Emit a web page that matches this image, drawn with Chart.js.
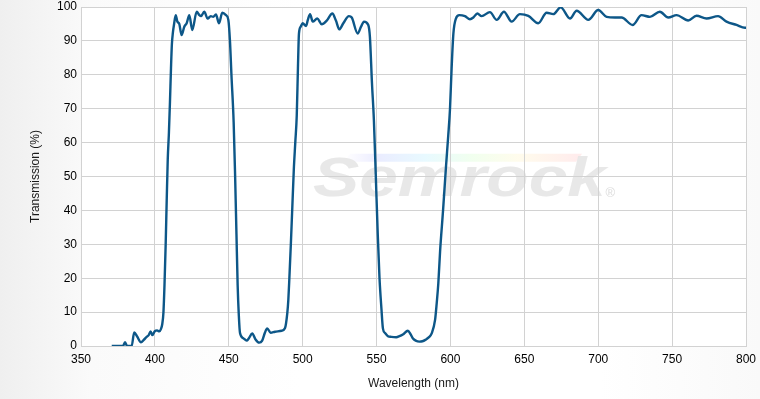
<!DOCTYPE html>
<html>
<head>
<meta charset="utf-8">
<script src="https://cdn.jsdelivr.net/npm/chart.js@4.4.0/dist/chart.umd.min.js"></script>
<style>
  html, body { margin: 0; padding: 0; }
  body {
    width: 760px; height: 399px; overflow: hidden;
    background: linear-gradient(to right, #efefef 0px, #fafafa 90px, #ffffff 300px, #ffffff 600px, #f9f9f9 760px);
  }
  #wrap { position: relative; width: 760px; height: 399px; }
</style>
</head>
<body>
<div id="wrap"><canvas id="c" width="760" height="399"></canvas></div>
<script>
// Wavelength (nm) and transmission (%)
const wavelengths = [
  370.8, 375, 378.4, 379.8, 381.2, 384.3, 386, 388, 390.6, 392.5, 394.4, 395.8, 397.1, 398.3, 400, 401.5, 403, 404,
  405, 405.8, 406.5, 407.3, 408, 408.7, 409.5, 410.2, 410.9, 411.5, 412.2, 413, 414.1, 415.2, 416.5, 418.1, 419.9,
  421.5, 423.3, 425.3, 428.3, 430.1, 431.2, 433.4, 435.7, 437.8, 439.5, 441.3, 443.4, 445.6, 448.1, 449.7,
  450.8, 451.8, 453.3, 454.3, 455.2, 456, 456.8, 457.6, 459.8, 462.1, 463.5, 465.9, 468, 470.6, 472.5, 474.5,
  476, 478.3, 481.3, 485.8, 488, 489.6, 490.3, 491, 492, 493, 494, 495, 496, 496.8, 497.5, 498.7, 500, 502.3,
  503.5, 505, 506.8, 509.9, 512.9, 516.3, 520.1, 522.5, 524.8, 527.5, 531.3, 533.2, 537.2, 539.5, 541.5, 544.4,
  545.5, 546.9, 548.2, 549.5, 550.8, 552, 553.3, 554.3, 555.8, 557.7, 560, 563.3, 565.5, 567.8, 571.2, 573,
  574.5, 576.5, 579, 581, 583, 585.5, 587.3, 589.6, 590.7, 591.8, 593, 595, 597, 598.5, 599.7, 600.8, 602, 603.7, 606,
  609.8, 613.2, 615.5, 618.2, 621.1, 626.7, 631.3, 636.2, 641.4, 647, 652.7, 659.4, 665.1, 669.6, 674.6, 680.9,
  685.4, 693.3, 700, 705.7, 711.3, 715.8, 723.3, 729.3, 735, 741.7, 747.4, 753, 760.9, 766.5, 773.3, 781.1,
  786.8, 793.6, 799.3, 800
];
const transmission = [
  0, 0, 0, 1.1, 0, 0, 4.0, 2.8, 1.1, 1.8, 2.7, 3.2, 4.3, 3.2, 4.4, 4.6, 4.3, 4.9,
  6.5, 10, 18, 30, 43, 55, 63, 72, 82, 89, 92.5, 95, 97.6, 95.7, 95, 91.7, 94.2,
  95.2, 97.6, 93.2, 98.6, 97.6, 97.3, 98.6, 96.6, 97.3, 97.1, 97.8, 95.2, 98.3, 97.6, 96.2,
  90, 80, 66, 50, 33, 18, 9, 3.8, 2.3, 1.6, 2.2, 3.7, 2.0, 1.0, 1.5, 4.0,
  5.2, 3.9, 4.2, 4.5, 5.2, 9.7, 13.6, 20, 30, 41, 52, 60, 68, 82, 92.2, 94.2, 95.2, 94.4,
  96.2, 97.9, 95.7, 96.6, 94.9, 96.0, 98.1, 96.0, 93.4, 95.2, 97.3, 96.9, 92.2, 94.2, 95.7, 94.7,
  91.2, 77.5, 66.6, 50, 33, 20, 11, 5.2, 3.8, 2.9, 2.7, 2.6, 2.9, 3.4, 4.5, 3.5,
  2.3, 1.6, 1.3, 1.4, 1.8, 2.6, 3.7, 7.7, 12.6, 18.5, 28, 40, 53, 62, 70, 82, 92.2, 96.6, 97.6,
  97.3, 96.4, 96.9, 98.1, 97.3, 98.5, 96.2, 98.6, 95.7, 97.9, 97.4, 95.2, 98.3, 97.9, 99.9, 96.6,
  98.9, 96.2, 99.1, 97.1, 96.9, 96.9, 94.7, 97.6, 97.1, 98.6, 96.9, 97.6, 96.0, 97.4, 96.6, 97.3,
  95.7, 94.7, 93.9, 93.9
];
const xTicks = { min: 350, max: 800, step: 50 };
const yTicks = { min: 0, max: 100, step: 10 };
const xTitle = 'Wavelength (nm)';
const yTitle = 'Transmission (%)';
const watermarkText = 'Semrock';

const points = wavelengths.map((w, i) => ({ x: w, y: transmission[i] }));

const backdrop = {
  id: 'backdrop',
  beforeDraw(chart) {
    const { ctx, chartArea: a } = chart;
    ctx.save();
    ctx.fillStyle = '#ffffff';
    ctx.fillRect(a.left, a.top, a.right - a.left, a.bottom - a.top);
    // faint rainbow stripe
    const xs = chart.scales.x, ys = chart.scales.y;
    const x0 = xs.getPixelForValue(528), x1 = xs.getPixelForValue(685);
    const g = ctx.createLinearGradient(x0, 0, x1, 0);
    g.addColorStop(0, 'rgba(170,160,255,0.0)');
    g.addColorStop(0.15, 'rgba(160,170,255,0.22)');
    g.addColorStop(0.35, 'rgba(150,230,255,0.22)');
    g.addColorStop(0.55, 'rgba(190,255,180,0.22)');
    g.addColorStop(0.75, 'rgba(255,240,170,0.22)');
    g.addColorStop(1, 'rgba(255,170,170,0.22)');
    ctx.fillStyle = g;
    const yb = ys.getPixelForValue(55.5);
    ctx.beginPath();
    ctx.moveTo(x0 + 6, yb - 4);
    ctx.lineTo(x1 + 6, yb - 4);
    ctx.lineTo(x1, yb + 4);
    ctx.lineTo(x0, yb + 4);
    ctx.closePath();
    ctx.fill();
    // watermark text
    const tx = xs.getPixelForValue(507), ty = ys.getPixelForValue(44.3);
    ctx.translate(tx, ty);
    ctx.scale(1.26, 1);
    ctx.font = 'italic bold 55px "Liberation Sans", Arial, sans-serif';
    ctx.fillStyle = 'rgba(228,228,228,0.85)';
    ctx.textBaseline = 'alphabetic';
    ctx.fillText(watermarkText, 0, 0);
    ctx.setTransform(1, 0, 0, 1, 0, 0);
    ctx.font = '13px "Liberation Sans", Arial, sans-serif';
    ctx.fillStyle = 'rgba(215,215,215,0.9)';
    ctx.fillText('\u00AE', xs.getPixelForValue(705), ys.getPixelForValue(44.0));
    ctx.restore();
  }
};

new Chart(document.getElementById('c'), {
  type: 'line',
  data: {
    datasets: [{
      data: points,
      borderColor: '#0d5788',
      borderWidth: 2.4,
      pointRadius: 0,
      fill: false,
      cubicInterpolationMode: 'monotone'
    }]
  },
  options: {
    responsive: false,
    animation: false,
    events: [],
    layout: { padding: { left: 28, right: 14, top: 7, bottom: 8 } },
    plugins: { legend: { display: false }, tooltip: { enabled: false } },
    scales: {
      x: {
        type: 'linear',
        min: xTicks.min, max: xTicks.max,
        grid: { color: '#d2d2d2', lineWidth: 1, drawTicks: false },
        border: { color: '#d2d2d2' },
        ticks: { stepSize: xTicks.step, padding: 6, color: '#000', font: { family: '"Liberation Sans", Arial, sans-serif', size: 12 } },
        title: { display: true, text: xTitle, color: '#1a1a1a', padding: { top: 4, bottom: 0 }, font: { family: '"Liberation Sans", Arial, sans-serif', size: 12 } },
        afterFit(s) { s.height = 399 - 346 - 8; s.paddingLeft = 0; s.paddingRight = 0; }
      },
      y: {
        type: 'linear',
        min: yTicks.min, max: yTicks.max,
        grid: { color: '#d2d2d2', lineWidth: 1, drawTicks: false },
        border: { color: '#d2d2d2' },
        ticks: { stepSize: yTicks.step, padding: 4, color: '#000', font: { family: '"Liberation Sans", Arial, sans-serif', size: 12 } },
        title: { display: true, text: yTitle, color: '#1a1a1a', padding: { top: 0, bottom: 0 }, font: { family: '"Liberation Sans", Arial, sans-serif', size: 12 } },
        afterFit(s) { s.width = 81 - 28; s.paddingTop = 0; s.paddingBottom = 0; }
      }
    }
  },
  plugins: [backdrop]
});
</script>
</body>
</html>
